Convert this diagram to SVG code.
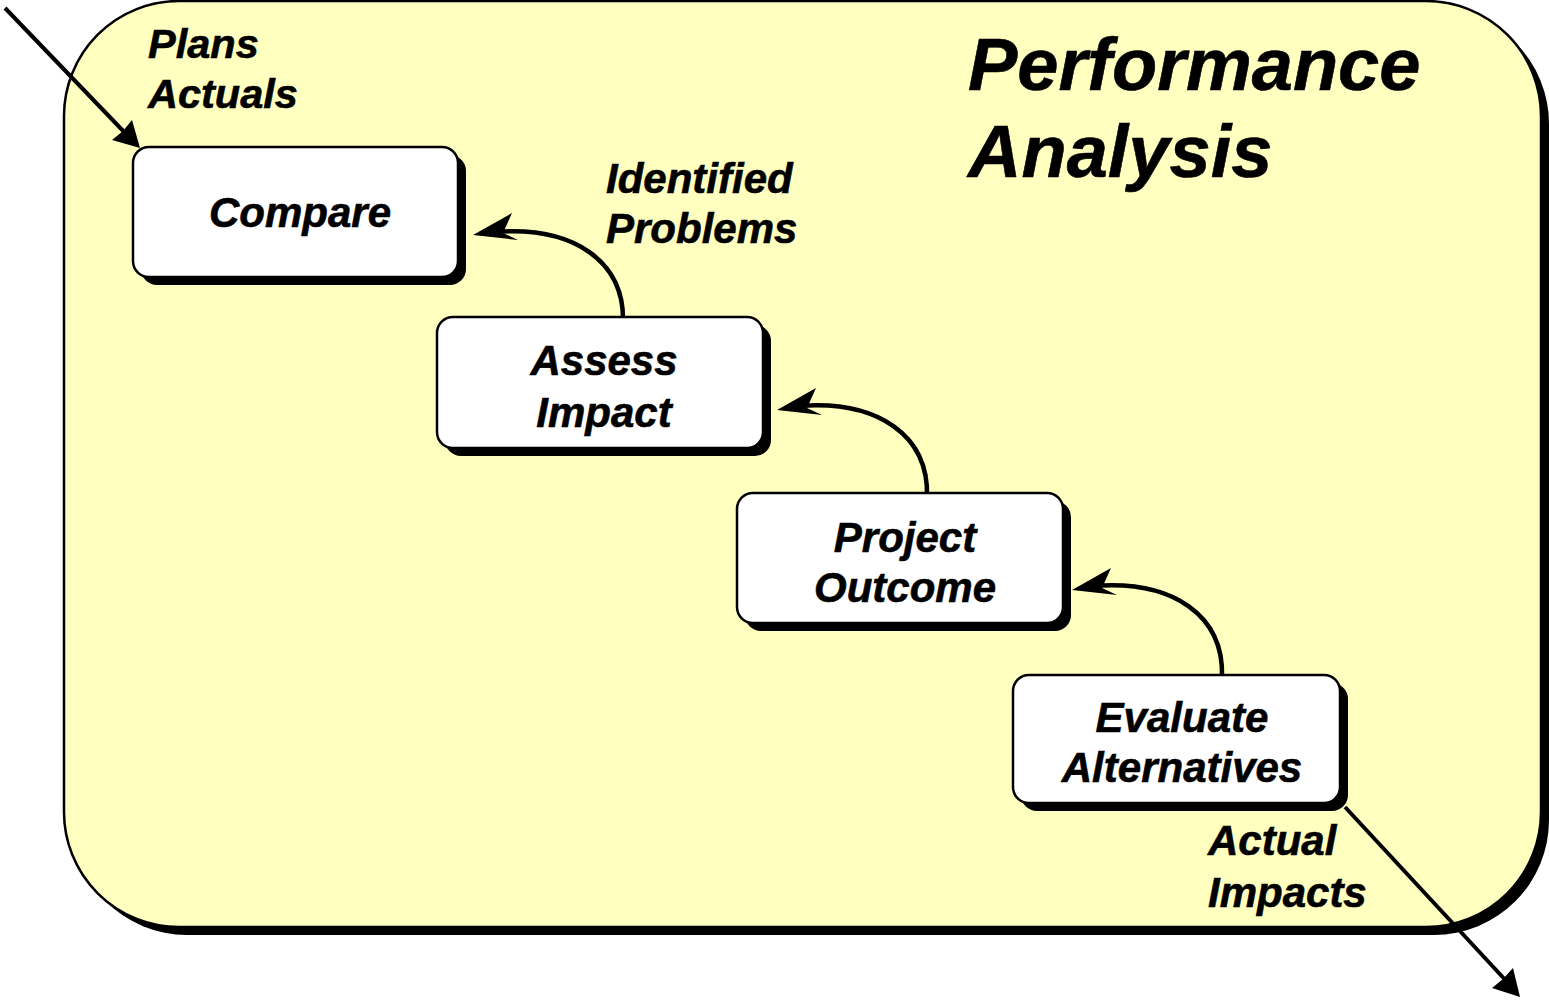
<svg xmlns="http://www.w3.org/2000/svg" width="1549" height="1000" viewBox="0 0 1549 1000">
<style>
.t{font-family:"Liberation Sans",Arial,sans-serif;font-weight:bold;font-style:italic;fill:#000;stroke:#000;stroke-width:0.6}
.box{fill:#fff;stroke:#000;stroke-width:2.5}
.sh{fill:#000}
.con{fill:none;stroke:#000;stroke-width:4}
.cur{fill:none;stroke:#000;stroke-width:4.5}
.head{fill:#000}
</style>
<rect width="1549" height="1000" fill="#fff"/>
<g id="frame">
<rect x="72" y="9" width="1477" height="926" rx="115" ry="115" class="sh"/>
<rect x="64" y="1" width="1477" height="926" rx="115" ry="115" fill="#FFFFBF" stroke="#000" stroke-width="2.5"/>
<text class="t" x="968" y="90" font-size="74">Performance</text>
<text class="t" x="968" y="177" font-size="74">Analysis</text>
</g>
<g id="connectors">
<line x1="5" y1="8" x2="128" y2="136" class="con"/>
<polygon points="140,148 112,140 123,131 132,120" class="head"/>
<line x1="1345" y1="807" x2="1510" y2="985" class="con"/>
<polygon points="1520,997 1492,988 1503,979 1513,968" class="head"/>
<path d="M623,323 C625,262 575,226 495,232" class="cur"/>
<polygon points="473,235 512,213 503,233 518,240" class="head"/>
<path d="M927,497 C929,436 879,400 799,406" class="cur"/>
<polygon points="777,410 816,388 807,408 822,415" class="head"/>
<path d="M1222,677 C1224,616 1174,580 1094,586" class="cur"/>
<polygon points="1072,590 1111,568 1102,588 1117,595" class="head"/>
</g>
<g id="lbl-plans">
<text class="t" x="148" y="58" font-size="41.5">Plans</text>
<text class="t" x="148" y="108" font-size="41.5">Actuals</text>
</g>
<g id="lbl-problems">
<text class="t" x="606" y="193" font-size="42">Identified</text>
<text class="t" x="606" y="243" font-size="42">Problems</text>
</g>
<g id="lbl-impacts">
<text class="t" x="1208" y="855" font-size="42">Actual</text>
<text class="t" x="1208" y="907" font-size="42">Impacts</text>
</g>
<g id="node-compare">
<rect x="141" y="155" width="325" height="130" rx="16" class="sh"/>
<rect x="133" y="147" width="325" height="130" rx="16" class="box"/>
<text class="t" x="300" y="227" font-size="42" text-anchor="middle">Compare</text>
</g>
<g id="node-assess">
<rect x="445" y="325" width="326" height="131" rx="16" class="sh"/>
<rect x="437" y="317" width="326" height="131" rx="16" class="box"/>
<text class="t" x="604" y="375" font-size="42" text-anchor="middle">Assess</text>
<text class="t" x="604" y="427" font-size="42" text-anchor="middle">Impact</text>
</g>
<g id="node-project">
<rect x="745" y="501" width="326" height="130" rx="16" class="sh"/>
<rect x="737" y="493" width="326" height="130" rx="16" class="box"/>
<text class="t" x="905" y="552" font-size="42" text-anchor="middle">Project</text>
<text class="t" x="905" y="602" font-size="42" text-anchor="middle">Outcome</text>
</g>
<g id="node-evaluate">
<rect x="1021" y="683" width="327" height="128" rx="16" class="sh"/>
<rect x="1013" y="675" width="327" height="128" rx="16" class="box"/>
<text class="t" x="1182" y="732" font-size="42" text-anchor="middle">Evaluate</text>
<text class="t" x="1182" y="782" font-size="42" text-anchor="middle">Alternatives</text>
</g>
</svg>
